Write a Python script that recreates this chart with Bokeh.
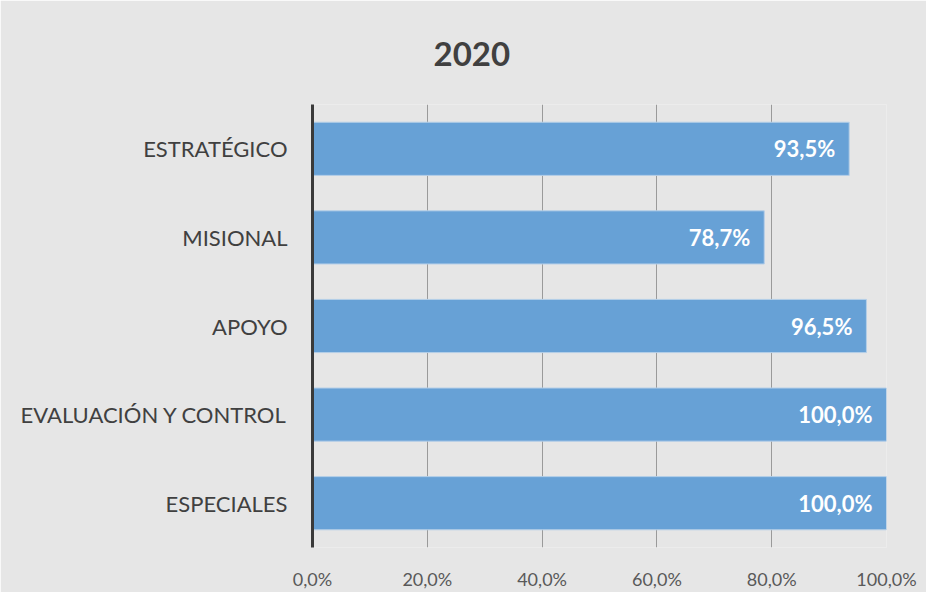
from bokeh.plotting import figure
from bokeh.models import ColumnDataSource, FactorRange, FixedTicker
from bokeh.core.properties import value
from bokeh.embed import file_html
from bokeh.resources import INLINE

title_text = "2020"
categories = ["ESTRATÉGICO", "MISIONAL", "APOYO", "EVALUACIÓN Y CONTROL", "ESPECIALES"]
values = [93.5, 78.7, 96.5, 100.0, 100.0]
value_labels = ["93,5%", "78,7%", "96,5%", "100,0%", "100,0%"]
tick_values = [0, 20, 40, 60, 80, 100]
tick_labels = ["0,0%", "20,0%", "40,0%", "60,0%", "80,0%", "100,0%"]

FONT = "Lato"
BG = "#e6e6e6"

src = ColumnDataSource(dict(cat=categories, val=values, lab=value_labels))

p = figure(
    width=926, height=592,
    y_range=FactorRange(*reversed(categories), range_padding=0),
    x_range=(0, 100),
    output_backend="svg", toolbar_location=None,
    min_border_left=312, min_border_right=40, min_border_top=104, min_border_bottom=40,
    title=title_text,
)

p.background_fill_color = BG
p.border_fill_color = BG
p.outline_line_color = None

p.title.align = "left"
p.title.offset = 121
p.title.standoff = 77
p.title.text_font = FONT
p.title.text_font_size = "33px"
p.title.text_font_style = "bold"
p.title.text_color = "#404040"

p.hbar(y="cat", right="val", left=0, height=0.6, source=src,
       fill_color="#67a1d6", line_color="#b5cfe8", line_width=1)

p.text(x="val", y="cat", text="lab", source=src,
       text_align="right", text_baseline="middle", x_offset=-14,
       text_color="white", text_font=value(FONT), text_font_size="22px",
       text_font_style="bold")

# x axis
p.xaxis.ticker = FixedTicker(ticks=tick_values)
p.xaxis.major_label_overrides = {t: l for t, l in zip(tick_values, tick_labels)}
p.xaxis.axis_line_color = None
p.xaxis.major_tick_line_color = None
p.xaxis.minor_tick_line_color = None
p.xaxis.major_label_text_font = FONT
p.xaxis.major_label_text_font_size = "18px"
p.xaxis.major_label_text_color = "#595959"
p.xaxis.major_label_standoff = 14

# y axis
p.yaxis.axis_line_color = "#3a3a3a"
p.yaxis.axis_line_width = 3
p.yaxis.major_tick_line_color = None
p.yaxis.minor_tick_line_color = None
p.yaxis.major_label_text_font = FONT
p.yaxis.major_label_text_font_size = "22px"
p.yaxis.major_label_text_color = "#404040"
p.yaxis.major_label_standoff = 19

p.xgrid.grid_line_color = "#9a9a9a"
p.xgrid.grid_line_width = 1
p.ygrid.grid_line_color = None

open("out.html", "w").write(file_html(p, INLINE))
